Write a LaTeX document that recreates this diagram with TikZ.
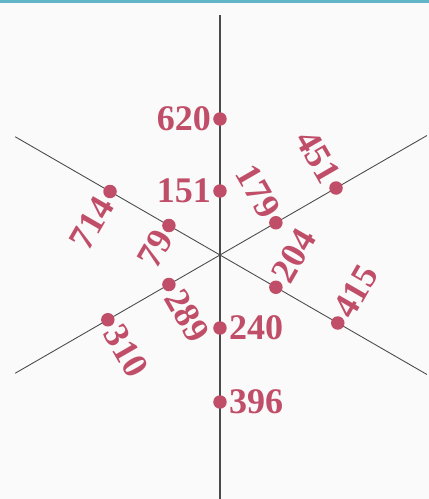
\documentclass[tikz,border=0pt]{standalone}
\usepackage{fontspec}
\setmainfont{Liberation Serif}
\usetikzlibrary{positioning}
\definecolor{dotred}{HTML}{C04E68}
\definecolor{axisgray}{HTML}{4A4A4A}
\definecolor{bandteal}{HTML}{62B4C9}

\begin{document}
\begin{tikzpicture}[x=1cm,y=1cm,
  ax/.style={draw=axisgray,line width=1pt},
  sp/.style={draw=axisgray,line width=.5pt},
  d/.style={circle,fill=dotred,inner sep=0pt,minimum size=.27cm},
  n/.style={text=dotred,font=\bfseries\fontsize{20.5}{20.5}\selectfont,inner sep=1pt}]
  \useasboundingbox (-4.4,-4.88) rectangle (4.18,5.1);
  \fill[black!2] (-4.4,-4.88) rectangle (4.18,5.1);
  \fill[bandteal] (-4.4,5.04) rectangle (4.18,5.1);
  % the three lines
  \coordinate (top) at (0,4.8);\coordinate (bot) at (0,-4.88);
  \coordinate (ul) at (150:4.73);\coordinate (lr) at (330:4.78);
  \coordinate (ll) at (210:4.73);\coordinate (ur) at (30:4.78);
  \draw[ax] (top)--(bot);\draw[sp] (ul)--(lr);\draw[sp] (ll)--(ur);
  % dots
  \node[d] (d620) at (90:2.72) {};\node[d] (d151) at (90:1.28) {};
  \node[d] (d240) at (270:1.46) {};\node[d] (d396) at (270:2.94) {};
  \node[d] (d714) at (150:2.54) {};\node[d] (d79) at (150:1.18) {};
  \node[d] (d179) at (30:1.29) {};\node[d] (d451) at (30:2.68) {};
  \node[d] (d289) at (210:1.18) {};\node[d] (d310) at (210:2.59) {};
  \node[d] (d204) at (330:1.29) {};\node[d] (d415) at (330:2.72) {};
  % numbers
  \node[n,left=0pt of d620] (n620) {620};\node[n,left=0pt of d151] (n151) {151};
  \node[n,right=0pt of d240] (n240) {240};\node[n,right=0pt of d396] (n396) {396};
  \node[n,rotate=60,anchor=east] (n714) at (d714.240) {714};
  \node[n,rotate=60,anchor=east] (n79) at (d79.240) {79};
  \node[n,rotate=-60,anchor=east] (n451) at (d451.120) {451};
  \node[n,rotate=-60,anchor=east] (n179) at (d179.120) {179};
  \node[n,rotate=60,anchor=west] (n204) at (d204.60) {204};
  \node[n,rotate=60,anchor=west] (n415) at (d415.60) {415};
  \node[n,rotate=-60,anchor=west] (n289) at (d289.300) {289};
  \node[n,rotate=-60,anchor=west] (n310) at (d310.300) {310};
\end{tikzpicture}
\end{document}
